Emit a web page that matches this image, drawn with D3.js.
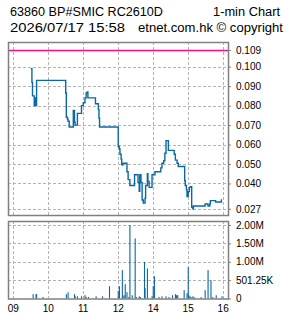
<!DOCTYPE html>
<html><head><meta charset="utf-8">
<script src="https://cdn.jsdelivr.net/npm/d3@7"></script>
<style>
html,body{margin:0;padding:0;background:#fff;}
svg{display:block;}
text{font-family:"Liberation Sans",Arial,sans-serif;fill:#000;}
</style></head>
<body>
<script>
// ---- data ----
const titleLeft1 = "63860 BP#SMIC RC2610D";
const titleRight1 = "1-min Chart";
const titleLeft2 = "2026/07/17 15:58";
const titleRight2 = "etnet.com.hk \u00a9 copyright";

const priceTimes = ["09:30","09:32","09:33","09:36","09:37","09:38","09:40","10:30","10:31","10:33","10:34","10:36","10:43","10:45","10:46","10:50","10:57","11:00","11:03","11:05","11:07","11:08","11:21","11:26","11:27","11:28","13:00","13:02","13:03","13:05","13:06","13:07","13:08","13:15","13:17","13:20","13:28","13:34","13:36","13:37","13:39","13:41","13:43","13:46","13:47","13:50","13:51","13:53","13:58","14:03","14:13","14:15","14:18","14:20","14:22","14:26","14:36","14:38","14:41","14:43","14:54","14:55","14:57","14:58","15:00","15:02","15:04","15:06","15:08","15:09","15:29","15:34","15:37","15:38","15:47","15:57","15:58"];
const priceValues = [0.099,0.092,0.085,0.080,0.084,0.080,0.093,0.0865,0.074,0.073,0.072,0.069,0.0775,0.0715,0.070,0.076,0.080,0.0815,0.084,0.0865,0.087,0.084,0.081,0.078,0.0735,0.069,0.059,0.0577,0.055,0.0525,0.050,0.0495,0.0504,0.046,0.042,0.039,0.0445,0.0405,0.036,0.0445,0.0405,0.0315,0.030,0.0325,0.039,0.045,0.041,0.038,0.0445,0.046,0.048,0.0504,0.0517,0.0555,0.062,0.057,0.055,0.052,0.0504,0.0487,0.0414,0.039,0.0367,0.0333,0.0358,0.038,0.0383,0.0278,0.027,0.0284,0.0295,0.0284,0.0295,0.0312,0.0305,0.0315,0.0315];

const volTimes = ["09:34","09:39","09:40","09:51","10:31","10:34","10:45","10:46","10:50","10:57","11:03","11:05","11:09","11:22","11:33","11:45","13:00","13:02","13:07","13:08","13:10","13:12","13:15","13:18","13:20","13:24","13:29","13:31","13:36","13:38","13:45","13:46","13:50","13:58","14:00","14:02","14:10","14:15","14:22","14:27","14:33","14:38","14:40","14:42","14:53","14:58","15:00","15:01","15:03","15:05","15:08","15:10","15:22","15:29","15:34","15:39","15:42","15:48","15:58"];
const volValues = [118000,118000,118000,40000,118000,170000,118000,60000,60000,60000,90000,40000,40000,60000,60000,336000,208000,336000,774000,60000,90000,391000,172000,40000,2005000,90000,1640000,40000,60000,40000,1000000,282000,820000,60000,336000,610000,40000,60000,60000,40000,90000,118000,90000,90000,227000,145000,856000,90000,60000,40000,60000,40000,40000,227000,774000,500000,40000,90000,60000];

const refPrice = 0.1086;
const refLabel = "0.109";
const priceTicks = [0.100,0.090,0.080,0.070,0.060,0.050,0.040,0.027];
const priceTickLabels = ["0.100","0.090","0.080","0.070","0.060","0.050","0.040","0.027"];
const volTicks = [0,501250,1002500,1503750,2005000];
const volTickLabels = ["0","501.25K","1.00M","1.50M","2.00M"];
const hourTicks = ["09:00","10:00","11:00","12:00","14:00","15:00","16:00"];
const hourLabels = ["09","10","11","12","14","15","16"];

// ---- helpers ----
function axisMin(s){
  const [h,m] = s.split(":").map(Number);
  let t = h*60+m-540;
  if (t >= 240) t -= 60; else if (t > 180) t = 180;
  return t;
}

const W = 285, H = 318;
const svg = d3.select("body").append("svg").attr("width",W).attr("height",H);

const x = d3.scaleLinear().domain([-9,370]).range([8,229]);
const yP = d3.scaleLinear().domain([0.02330,0.11269]).range([216,42]);
const yV = d3.scaleLinear().domain([0,2114400]).range([298.5,221]);

const gridColor = "#b4b4b4", frameColor = "#808080", blue = "#0a68a6";

// header
svg.append("text").attr("x",10).attr("y",16).attr("font-size",12).attr("textLength",153).attr("lengthAdjust","spacingAndGlyphs").text(titleLeft1);
svg.append("text").attr("x",213).attr("y",16).attr("font-size",12).attr("textLength",67).attr("lengthAdjust","spacingAndGlyphs").text(titleRight1);
svg.append("text").attr("x",10).attr("y",32).attr("font-size",12).attr("textLength",115).attr("lengthAdjust","spacingAndGlyphs").text(titleLeft2);
svg.append("text").attr("x",138).attr("y",32).attr("font-size",12).attr("textLength",145).attr("lengthAdjust","spacingAndGlyphs").text(titleRight2);

// ---- price panel ----
const pTop = 42, pBot = 216, vTop = 221, vBot = 298.5, L = 8, R = 229;

const gP = svg.append("g");
// vertical grid
gP.selectAll("line.vg").data(hourTicks).join("line")
  .attr("x1",d=>Math.round(x(axisMin(d)))+0.5).attr("x2",d=>Math.round(x(axisMin(d)))+0.5)
  .attr("y1",pTop).attr("y2",pBot)
  .attr("stroke",gridColor).attr("stroke-dasharray","3,2");
// horizontal grid
gP.selectAll("line.hg").data(priceTicks).join("line")
  .attr("x1",L).attr("x2",R)
  .attr("y1",d=>Math.round(yP(d))+0.5).attr("y2",d=>Math.round(yP(d))+0.5)
  .attr("stroke",gridColor).attr("stroke-dasharray","3,2");
// ref line
gP.append("line").attr("x1",L).attr("x2",R)
  .attr("y1",Math.round(yP(refPrice))+0.5).attr("y2",Math.round(yP(refPrice))+0.5)
  .attr("stroke","#ff0a80").attr("stroke-width",1.5);

// price line
const pts = priceTimes.map((t,i)=>[axisMin(t),priceValues[i]]);
const line = d3.line().x(d=>x(d[0])).y(d=>yP(d[1])).curve(d3.curveStepAfter);
gP.append("path").datum(pts).attr("d",line).attr("fill","none")
  .attr("stroke",blue).attr("stroke-width",1.4);

// frame
gP.append("rect").attr("x",L+0.5).attr("y",pTop+0.5).attr("width",R-L-1).attr("height",pBot-pTop-1)
  .attr("fill","none").attr("stroke",frameColor).attr("stroke-width",1.5);

// y-axis labels
const yAxisP = d3.axisRight(yP).tickValues(priceTicks.concat([refPrice]))
  .tickFormat((d,i)=> i<priceTicks.length ? priceTickLabels[i] : refLabel)
  .tickSize(2).tickPadding(5);
const axP = svg.append("g").attr("transform",`translate(${R},0)`).call(yAxisP);
axP.select(".domain").remove();
axP.selectAll(".tick line").attr("stroke",frameColor);
axP.selectAll(".tick text").attr("font-size",10).attr("font-family","Liberation Sans, Arial, sans-serif").attr("fill","#000");

// ---- volume panel ----
const gV = svg.append("g");
gV.selectAll("line.vg").data(hourTicks).join("line")
  .attr("x1",d=>Math.round(x(axisMin(d)))+0.5).attr("x2",d=>Math.round(x(axisMin(d)))+0.5)
  .attr("y1",vTop).attr("y2",vBot)
  .attr("stroke",gridColor).attr("stroke-dasharray","3,2");
gV.selectAll("line.hg").data(volTicks.slice(1)).join("line")
  .attr("x1",L).attr("x2",R)
  .attr("y1",d=>Math.round(yV(d))+0.5).attr("y2",d=>Math.round(yV(d))+0.5)
  .attr("stroke",gridColor).attr("stroke-dasharray","3,2");

gV.selectAll("rect.bar").data(volTimes.map((t,i)=>[axisMin(t),volValues[i]])).join("rect")
  .attr("x",d=>x(d[0])-0.5).attr("width",1.1)
  .attr("y",d=>yV(d[1])).attr("height",d=>yV(0)-yV(d[1]))
  .attr("fill",blue);

gV.append("rect").attr("x",L+0.5).attr("y",vTop+0.5).attr("width",R-L-1).attr("height",vBot-vTop)
  .attr("fill","none").attr("stroke",frameColor).attr("stroke-width",1.5);

const yAxisV = d3.axisRight(yV).tickValues(volTicks)
  .tickFormat((d,i)=>volTickLabels[i]).tickSize(2).tickPadding(5);
const axV = svg.append("g").attr("transform",`translate(${R},0)`).call(yAxisV);
axV.select(".domain").remove();
axV.selectAll(".tick line").attr("stroke",frameColor);
axV.selectAll(".tick text").attr("font-size",10).attr("font-family","Liberation Sans, Arial, sans-serif").attr("fill","#000");

// x labels
svg.selectAll("text.xl").data(hourTicks).join("text")
  .attr("x",d=>x(axisMin(d))).attr("y",311.5)
  .attr("text-anchor","middle").attr("font-size",10)
  .text((d,i)=>hourLabels[i]);
</script>
</body></html>
